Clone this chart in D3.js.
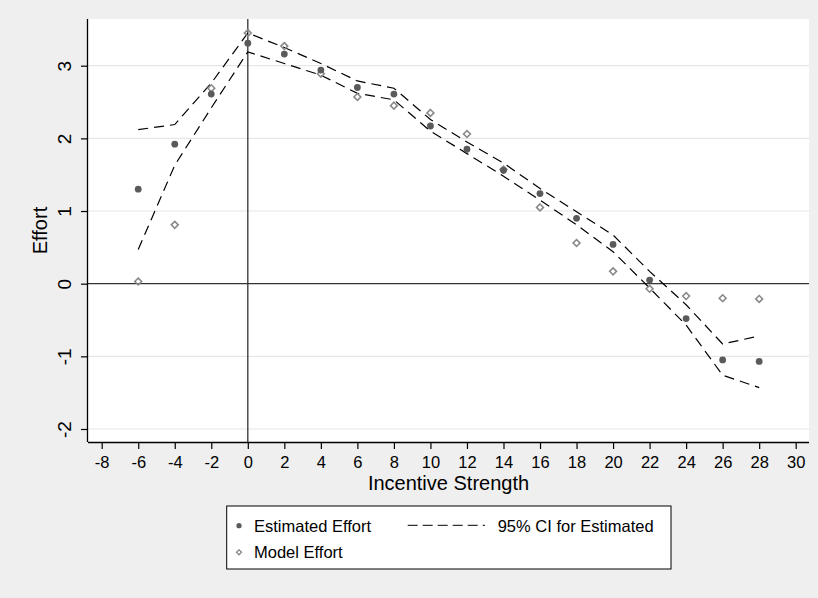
<!DOCTYPE html>
<html>
<head>
<meta charset="utf-8">
<script src="https://cdn.jsdelivr.net/npm/d3@7"></script>
<style>
  html, body { margin: 0; padding: 0; background: #efefef; }
  svg { display: block; }
  text { font-family: "Liberation Sans", Arial, sans-serif; fill: #000; }
</style>
</head>
<body>
<svg id="chart" width="818" height="598"></svg>
<script>
// Incentive strength levels
const incentive = [-6, -4, -2, 0, 2, 4, 6, 8, 10, 12, 14, 16, 18, 20, 22, 24, 26, 28];
// Estimated effort (point estimates)
const estimatedEffort = [1.30, 1.92, 2.61, 3.31, 3.16, 2.94, 2.70, 2.61, 2.17, 1.85, 1.56, 1.24, 0.90, 0.54, 0.05, -0.48, -1.05, -1.07];
// Effort predicted by the model
const modelEffort = [0.03, 0.81, 2.69, 3.45, 3.27, 2.89, 2.57, 2.45, 2.35, 2.06, 1.57, 1.05, 0.56, 0.17, -0.07, -0.17, -0.20, -0.21];
// 95% confidence band for the estimate
const ciUpper = [2.12, 2.19, 2.76, 3.45, 3.25, 3.03, 2.79, 2.69, 2.26, 1.95, 1.66, 1.31, 0.99, 0.67, 0.17, -0.29, -0.83, -0.72];
const ciLower = [0.47, 1.63, 2.42, 3.19, 3.03, 2.87, 2.62, 2.53, 2.10, 1.79, 1.48, 1.15, 0.81, 0.44, -0.06, -0.57, -1.26, -1.43];
// Axis ticks
const xTicks = d3.range(-8, 31, 2);
const yTicks = [-2, -1, 0, 1, 2, 3];

const svg = d3.select("#chart");
const W = 818, H = 598;

// plot region bounds
const plot = { left: 88, right: 809, top: 19, bottom: 442 };

const x = d3.scaleLinear().domain([-8, 30]).range([101.7, 795.7]);
const y = d3.scaleLinear().domain([-2, 3]).range([429, 65.7]);

svg.append("rect").attr("width", W).attr("height", H).attr("fill", "#efefef");
svg.append("rect")
  .attr("x", plot.left).attr("y", plot.top)
  .attr("width", plot.right - plot.left).attr("height", plot.bottom - plot.top)
  .attr("fill", "#ffffff");

// horizontal grid lines
svg.append("g").selectAll("line")
  .data(yTicks.filter(d => d !== 0))
  .join("line")
  .attr("x1", plot.left).attr("x2", plot.right)
  .attr("y1", d => y(d)).attr("y2", d => y(d))
  .attr("stroke", "#e6e6e6").attr("stroke-width", 1.2);

// reference lines at zero
svg.append("line")
  .attr("x1", plot.left).attr("x2", plot.right)
  .attr("y1", y(0)).attr("y2", y(0))
  .attr("stroke", "#333").attr("stroke-width", 1.3);
svg.append("line")
  .attr("x1", x(0)).attr("x2", x(0))
  .attr("y1", plot.top).attr("y2", plot.bottom)
  .attr("stroke", "#333").attr("stroke-width", 1.3);

// confidence band lines
const line = d3.line().x(d => x(d[0])).y(d => y(d[1]));
[ciUpper, ciLower].forEach(arr => {
  svg.append("path")
    .datum(incentive.map((v, i) => [v, arr[i]]))
    .attr("d", line)
    .attr("fill", "none")
    .attr("stroke", "#000")
    .attr("stroke-width", 1.2)
    .attr("stroke-dasharray", "10,6");
});

// model effort (hollow diamonds)
const diamond = d3.symbol().type(d3.symbolDiamond2).size(30);
svg.append("g").selectAll("path")
  .data(incentive.map((v, i) => [v, modelEffort[i]]))
  .join("path")
  .attr("d", diamond)
  .attr("transform", d => `translate(${x(d[0])},${y(d[1])})`)
  .attr("fill", "none")
  .attr("stroke", "#8a8a8a")
  .attr("stroke-width", 1.6);

// estimated effort (filled circles)
svg.append("g").selectAll("circle")
  .data(incentive.map((v, i) => [v, estimatedEffort[i]]))
  .join("circle")
  .attr("cx", d => x(d[0])).attr("cy", d => y(d[1]))
  .attr("r", 3.4)
  .attr("fill", "#5a5a5a");

// x axis
const xAxis = svg.append("g")
  .attr("transform", `translate(0,${plot.bottom})`)
  .call(d3.axisBottom(x).tickValues(xTicks).tickSize(7).tickSizeOuter(0).tickFormat(d3.format("d")));
xAxis.select(".domain").attr("d", `M${plot.left},0.5H${plot.right}`).attr("stroke", "#000").attr("stroke-width", 1.3);
xAxis.selectAll(".tick line").attr("stroke", "#000").attr("stroke-width", 1.2);
xAxis.selectAll(".tick text")
  .attr("y", 25.5).attr("dy", 0)
  .style("font-size", "16.5px")
  .style("font-family", "'Liberation Sans', Arial, sans-serif")
  .text(d => d < 0 ? "-" + Math.abs(d) : d);

// y axis
const yAxis = svg.append("g")
  .attr("transform", `translate(${plot.left},0)`)
  .call(d3.axisLeft(y).tickValues(yTicks).tickSize(7).tickSizeOuter(0).tickFormat(d3.format("d")));
yAxis.select(".domain").attr("d", `M-0.5,${plot.top}V${plot.bottom}`).attr("stroke", "#000").attr("stroke-width", 1.3);
yAxis.selectAll(".tick line").attr("stroke", "#000").attr("stroke-width", 1.2);
yAxis.selectAll(".tick text")
  .attr("transform", "rotate(-90)")
  .attr("x", 0).attr("y", -17.5).attr("dy", 0)
  .attr("text-anchor", "middle")
  .style("font-size", "19px")
  .style("font-family", "'Liberation Sans', Arial, sans-serif")
  .text(d => d < 0 ? "-" + Math.abs(d) : d);

// axis titles
svg.append("text")
  .attr("x", (plot.left + plot.right) / 2).attr("y", 489.5)
  .attr("text-anchor", "middle")
  .style("font-size", "20px")
  .text("Incentive Strength");
svg.append("text")
  .attr("transform", `translate(46.7,${(plot.top + plot.bottom) / 2}) rotate(-90)`)
  .attr("text-anchor", "middle")
  .style("font-size", "20px")
  .text("Effort");

// legend
const lg = svg.append("g");
lg.append("rect")
  .attr("x", 226.7).attr("y", 506).attr("width", 444.3).attr("height", 63)
  .attr("fill", "#fff").attr("stroke", "#000").attr("stroke-width", 1);
lg.append("circle").attr("cx", 239).attr("cy", 525.7).attr("r", 2.6).attr("fill", "#5a5a5a");
lg.append("text").attr("x", 254).attr("y", 531.7).style("font-size", "16.5px").text("Estimated Effort");
lg.append("path")
  .attr("d", d3.symbol().type(d3.symbolDiamond2).size(16)())
  .attr("transform", "translate(239,552.3)")
  .attr("fill", "none").attr("stroke", "#8a8a8a").attr("stroke-width", 1.3);
lg.append("text").attr("x", 254).attr("y", 558.3).style("font-size", "16.5px").text("Model Effort");
lg.append("line")
  .attr("x1", 407.7).attr("x2", 485).attr("y1", 525.3).attr("y2", 525.3)
  .attr("stroke", "#000").attr("stroke-width", 1)
  .attr("stroke-dasharray", "10,5");
lg.append("text").attr("x", 497.7).attr("y", 531.7).style("font-size", "16.5px").text("95% CI for Estimated");
</script>
</body>
</html>
